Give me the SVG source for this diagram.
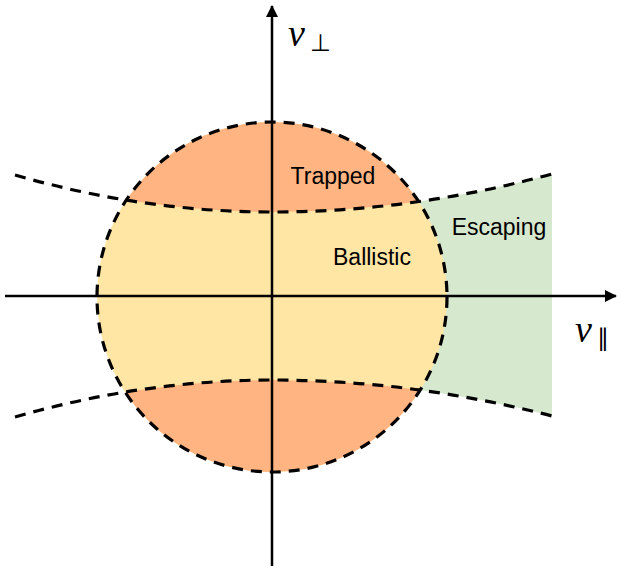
<svg xmlns="http://www.w3.org/2000/svg" width="620" height="568" viewBox="0 0 620 568">
<style>
.dash{fill:none;stroke:#000;stroke-width:3.2;stroke-dasharray:11 8}
.axis{stroke:#000;stroke-width:2.5;fill:none}
.lbl{font-family:"Liberation Sans",Arial,sans-serif;font-size:23px;fill:#000;text-anchor:middle}
.math{font-family:"Liberation Serif","Times New Roman",serif;font-style:italic;font-size:38px;fill:#000}
.sub{font-family:"DejaVu Sans","Liberation Sans",sans-serif;font-size:24px;fill:#000}
</style>
<defs>
<clipPath id="circ"><circle cx="272" cy="297" r="175"/></clipPath>
<marker id="arr" viewBox="0 0 12 12" refX="11" refY="6" markerWidth="12" markerHeight="12" markerUnits="userSpaceOnUse" orient="auto">
<path d="M0,0 L12,6 L0,12 Z" fill="#000"/>
</marker>
</defs>
<g id="escaping-region">
<path d="M272,212 Q412,212 552,174 L552,416 Q412,380 272,380 Z" fill="#D6E8CE"/>
</g>
<g id="ballistic-region">
<circle cx="272" cy="297" r="175" fill="#FFE6A5"/>
</g>
<g id="trapped-regions" clip-path="url(#circ)">
<path d="M15,175 Q143.5,212 272,212 Q412,212 552,174 L552,0 L15,0 Z" fill="#FFB482"/>
<path d="M15,417 Q143.5,380 272,380 Q412,380 552,416 L552,568 L15,568 Z" fill="#FFB482"/>
</g>
<g id="connectors">
<circle class="dash" cx="272" cy="297" r="175"/>
<path class="dash" d="M15,175 Q143.5,212 272,212 Q412,212 552,174"/>
<path class="dash" d="M15,417 Q143.5,380 272,380 Q412,380 552,416"/>
<line class="axis" x1="272" y1="566" x2="272" y2="6" marker-end="url(#arr)"/>
<line class="axis" x1="5" y1="296" x2="616" y2="296" marker-end="url(#arr)"/>
</g>
<g id="labels">
<text class="lbl" x="333" y="184">Trapped</text>
<text class="lbl" x="372" y="265">Ballistic</text>
<text class="lbl" x="499" y="235">Escaping</text>
<text class="math" x="288" y="46">v</text>
<text class="sub" x="310" y="51">⊥</text>
<text class="math" x="575" y="342">v</text>
<text class="sub" x="597" y="346" font-size="28">∥</text>
</g>
</svg>
